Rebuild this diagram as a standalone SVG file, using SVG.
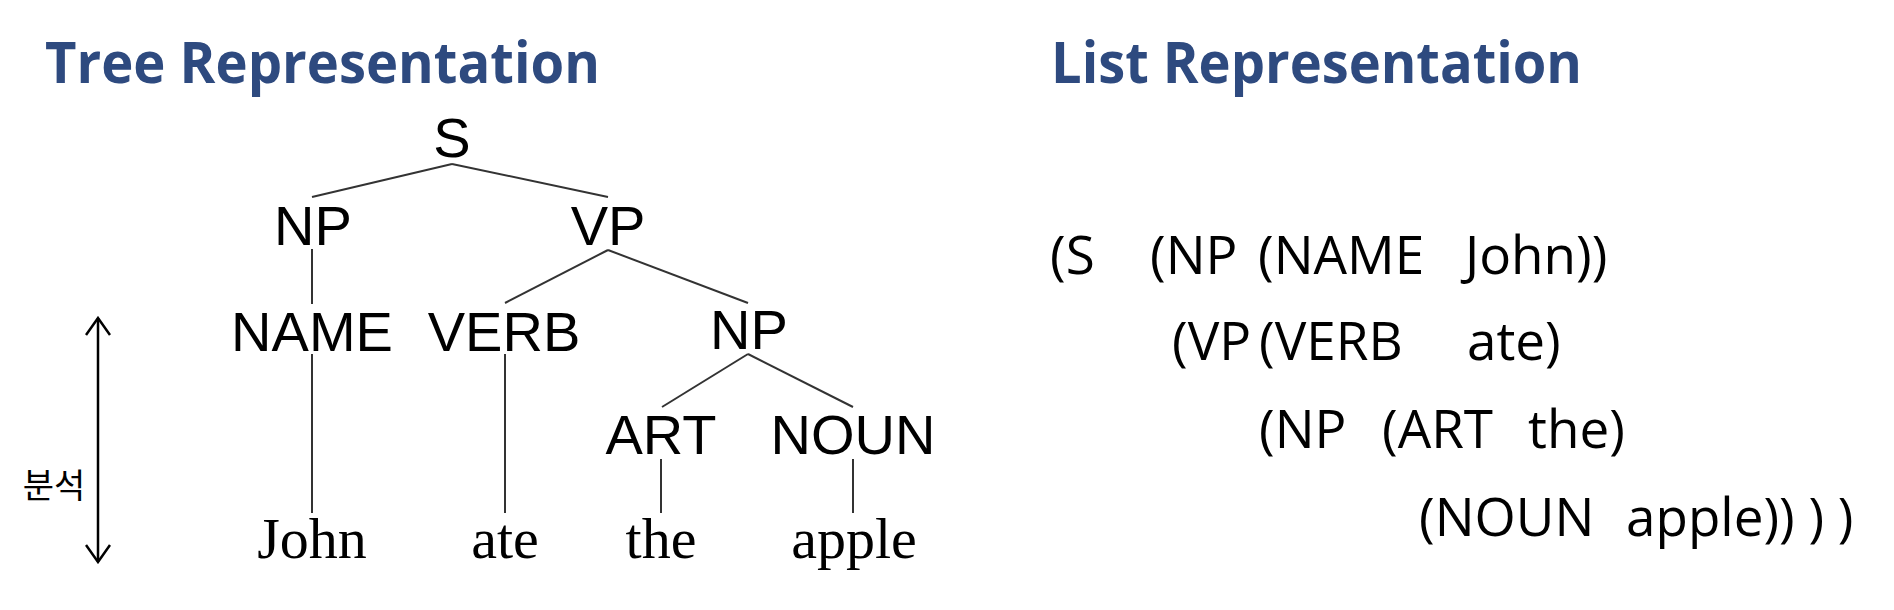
<svg xmlns="http://www.w3.org/2000/svg" width="1894" height="610" viewBox="0 0 1894 610">
<defs>
<style>
.title{font-family:"Open Sans","Noto Sans",sans-serif;font-weight:bold;font-size:57px;fill:#2E4A7F}
.cat{font-family:"Liberation Sans",Arial,sans-serif;font-size:56px;fill:#000;text-anchor:middle}
.word{font-family:"Liberation Serif","Times New Roman",serif;font-size:58px;fill:#000;text-anchor:middle}
.list{font-family:"Open Sans","Noto Sans",sans-serif;font-size:53px;fill:#000}
.kor{font-family:"Noto Sans CJK KR","Noto Sans",sans-serif;font-size:34px;fill:#000;text-anchor:middle}
.edge{stroke:#333;stroke-width:2;fill:none}
</style>
<marker id="chev" viewBox="0 0 20 26" markerWidth="20" markerHeight="26" refX="18" refY="13" orient="auto-start-reverse" markerUnits="userSpaceOnUse">
<path d="M1,1 L18,13 L1,25" fill="none" stroke="#000" stroke-width="2.5"/>
</marker>
</defs>
<rect width="1894" height="610" fill="#fff"/>
<text class="title" x="45" y="83" textLength="555" lengthAdjust="spacingAndGlyphs">Tree Representation</text>
<text class="title" x="1051" y="83" textLength="531" lengthAdjust="spacingAndGlyphs">List Representation</text>
<g id="connectors">
<line class="edge" x1="452" y1="164" x2="312" y2="197"/>
<line class="edge" x1="452" y1="164" x2="608" y2="197"/>
<line class="edge" x1="312" y1="249" x2="312" y2="304"/>
<line class="edge" x1="608" y1="250" x2="505" y2="303"/>
<line class="edge" x1="608" y1="250" x2="748" y2="303"/>
<line class="edge" x1="312" y1="354" x2="312" y2="513"/>
<line class="edge" x1="505" y1="354" x2="505" y2="513"/>
<line class="edge" x1="748" y1="354" x2="662" y2="407"/>
<line class="edge" x1="748" y1="354" x2="853" y2="407"/>
<line class="edge" x1="661" y1="459" x2="661" y2="513"/>
<line class="edge" x1="853" y1="459" x2="853" y2="513"/>
</g>
<g id="n-S"><text class="cat" x="452" y="157">S</text></g>
<g id="n-NP1"><text class="cat" x="313" y="245">NP</text></g>
<g id="n-VP"><text class="cat" x="608" y="245">VP</text></g>
<g id="n-NAME"><text class="cat" x="312" y="351">NAME</text></g>
<g id="n-VERB"><text class="cat" x="504" y="351">VERB</text></g>
<g id="n-NP2"><text class="cat" x="749" y="349">NP</text></g>
<g id="n-ART"><text class="cat" x="661" y="454">ART</text></g>
<g id="n-NOUN"><text class="cat" x="853" y="454">NOUN</text></g>
<g id="n-John"><text class="word" x="312" y="558">John</text></g>
<g id="n-ate"><text class="word" x="505" y="558">ate</text></g>
<g id="n-the"><text class="word" x="661" y="558">the</text></g>
<g id="n-apple"><text class="word" x="854" y="558">apple</text></g>
<g id="analysis">
<line x1="98" y1="318" x2="98" y2="562" stroke="#000" stroke-width="2.5" marker-start="url(#chev)" marker-end="url(#chev)"/>
<text class="kor" x="54" y="498">분석</text>
</g>
<g id="list">
<text class="list" y="274"><tspan x="1050">(S</tspan><tspan x="1150">(NP</tspan><tspan x="1258">(NAME</tspan><tspan x="1465">John))</tspan></text>
<text class="list" y="360"><tspan x="1172">(VP</tspan><tspan x="1259">(VERB</tspan><tspan x="1467">ate)</tspan></text>
<text class="list" y="448"><tspan x="1259">(NP</tspan><tspan x="1382">(ART</tspan><tspan x="1528">the)</tspan></text>
<text class="list" y="536"><tspan x="1419">(NOUN</tspan><tspan x="1626">apple)) ) )</tspan></text>
</g>
</svg>
